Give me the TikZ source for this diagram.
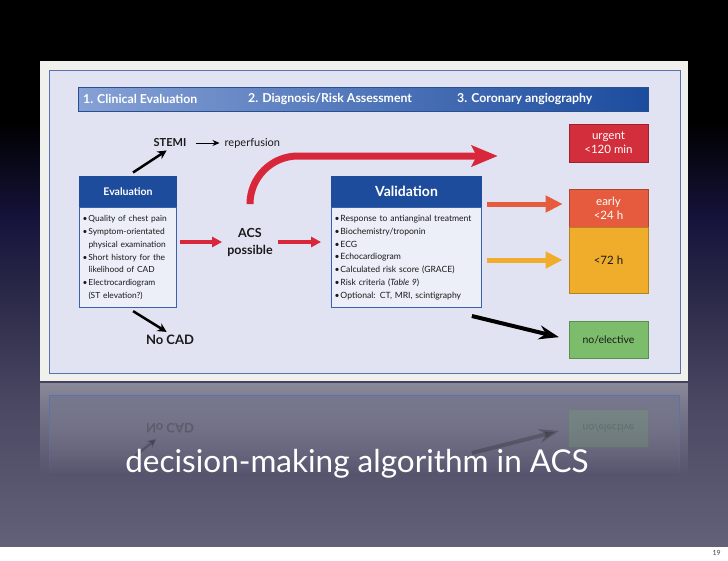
\documentclass[tikz,border=0pt]{standalone}
\usepackage{fontspec}
\setmainfont{Lato}
\usepackage{tikz}
\usetikzlibrary{positioning}
\usetikzlibrary{arrows.meta}
\usetikzlibrary{fadings}
\definecolor{bgA}{HTML}{636179}
\definecolor{bgB}{HTML}{4A4862}
\definecolor{bgC}{HTML}{2B2948}
\definecolor{bgD}{HTML}{15133A}
\definecolor{framecol}{HTML}{F0F0EC}
\definecolor{panelcol}{HTML}{E2E3F2}
\definecolor{panelline}{HTML}{5A72AE}
\definecolor{barleft}{HTML}{86A1D5}
\definecolor{barright}{HTML}{1C4C9E}
\definecolor{barline}{HTML}{2A4F90}
\definecolor{hdblue}{HTML}{1E4C9C}
\definecolor{bdblue}{HTML}{3A62AC}
\definecolor{bodyfill}{HTML}{ECEEF8}
\definecolor{accred}{HTML}{D8263B}
\definecolor{urgred}{HTML}{D22E3B}
\definecolor{earlyor}{HTML}{E65B3D}
\definecolor{lateyel}{HTML}{F0AD2C}
\definecolor{elgreen}{HTML}{7CBD6B}
\definecolor{ink}{HTML}{1A1A1A}
\definecolor{reflframe}{HTML}{8A8A9A}
\definecolor{reflpanel}{HTML}{76768C}
\definecolor{pagenum}{HTML}{444444}
\pgfdeclareverticalshading{slidebg}{100bp}{color(0bp)=(bgA); color(25bp)=(bgA); color(38bp)=(bgB); color(48bp)=(bgC); color(55bp)=(bgD); color(64bp)=(black); color(100bp)=(black)}
\newcommand{\bitem}{\makebox[6pt][l]{\textbullet}}
\newcommand{\bcont}{\hspace*{6pt}}

\begin{document}
\begin{tikzpicture}[
x=1pt, y=-1pt,
every node/.style={inner sep=1pt, text=ink, font=\fontsize{11}{13}\selectfont},
bar/.style={minimum width=570pt, minimum height=24pt, draw=barline, left color=barleft, right color=barright, inner sep=0pt},
bartext/.style={anchor=west, text=white, font=\bfseries\fontsize{12.3}{14}\selectfont},
boxhead/.style={fill=hdblue, text=white, minimum height=31pt, inner sep=0pt, font=\bfseries\fontsize{10.5}{12}\selectfont},
boxbody/.style={draw=bdblue, fill=bodyfill, line width=0.8pt, align=left, minimum height=100pt, inner xsep=3pt, font=\fontsize{8.6}{12.9}\selectfont},
tgt/.style={minimum width=79pt, align=center, line width=0.6pt, draw=#1!75!black, fill=#1, font=\fontsize{11.5}{14}\selectfont},
label/.style={font=\bfseries\fontsize{12.5}{17}\selectfont, align=center},
tharr/.style={line width=0.8pt, -{Stealth[length=7pt, width=6pt]}},
blkarr/.style={line width=2.5pt, -{Stealth[length=9pt, width=9pt]}},
redarr/.style={draw=accred, line width=3.5pt, -{Triangle[length=10pt, width=10pt]}},
fatarr/.style={draw=#1, line width=5pt, -{Triangle[length=17pt, width=16pt]}}
]
\useasboundingbox (0,0) rectangle (728,560);
\fill[white] (0,0) rectangle (728,560);
\shade[shading=slidebg] (0,0) rectangle (728,546);

\fill[framecol] (40,61) rectangle (688,381);
\filldraw[fill=panelcol, draw=panelline, line width=0.6pt] (49,70) rectangle (680,373);

\fill[reflframe, path fading=south] (40,383) rectangle (688,475);
\fill[reflpanel, path fading=south] (49,395) rectangle (680,475);
\draw[panelline, line width=0.6pt, path fading=south] (49,475) -- (49,395) -- (680,395) -- (680,475);

\node[bar] (bar) at (363,99) {};
\node[bartext] (step1) at (82,99) {1. Clinical Evaluation};
\node[bartext] (step2) at (247,99) {2. Diagnosis/Risk Assessment};
\node[bartext] (step3) at (456,99) {3. Coronary angiography};

\node[boxhead, minimum width=98pt] (evalhead) at (128,191.5) {Evaluation};
\node[boxbody, below=0pt of evalhead, text width=91pt, font=\fontsize{8.4}{12.9}\selectfont] (evalbody) {\bitem Quality of chest pain\\
\bitem Symptom-orientated\\
\bcont physical examination\\
\bitem Short history for the\\
\bcont likelihood of CAD\\
\bitem Electrocardiogram\\
\bcont (ST elevation?)};

\node[boxhead, minimum width=151pt, font=\bfseries\fontsize{14}{16}\selectfont] (valhead) at (406.5,191.5) {Validation};
\node[boxbody, below=0pt of valhead, text width=144pt] (valbody) {\bitem Response to antianginal treatment\\
\bitem Biochemistry/troponin\\
\bitem ECG\\
\bitem Echocardiogram\\
\bitem Calculated risk score (GRACE)\\
\bitem Risk criteria (\textit{Table 9})\\
\bitem Optional: CT, MRI, scintigraphy};

\node[label, font=\bfseries\fontsize{11}{13}\selectfont] (stemi) at (170,143) {STEMI};
\node[right=36pt of stemi] (reperf) {reperfusion};
\node[label] (acs) at (250,242) {ACS\\possible};
\node[label, font=\bfseries\fontsize{13}{15}\selectfont] (nocad) at (170,340) {No CAD};

\node[tgt=urgred, text=white, minimum height=38pt] (urgent) at (608.5,143) {urgent\\<120 min};
\node[tgt=earlyor, text=white, minimum height=38pt] (early) at (608.5,208) {early\\<24 h};
\node[tgt=lateyel, minimum height=66pt] (late) at (608.5,260) {<72 h};
\node[tgt=elgreen, minimum height=37pt, font=\fontsize{10.5}{12}\selectfont] (noelect) at (608.5,339.5) {no/elective};

\draw[blkarr, shorten <=6pt, shorten >=4pt] (evalhead.north) -- (stemi.south);
\draw[blkarr, shorten <=6pt, shorten >=4pt] (evalbody.south) -- (nocad.north);
\draw[tharr, shorten <=8pt, shorten >=4pt] (stemi.east) -- (reperf.west);
\draw[redarr, shorten <=3pt, shorten >=4pt] (evalbody.east |- acs) -- (acs.west);
\draw[redarr, shorten <=4pt, shorten >=10pt] (acs.east) -- (valbody.west |- acs);
\draw[draw=accred, line width=7pt, rounded corners=48pt, shorten <=24pt, shorten >=71pt, -{Stealth[length=26pt, width=21pt, inset=5pt]}] (acs.north) |- ([yshift=-13pt]urgent.west);
\draw[fatarr=earlyor, shorten <=5pt, shorten >=6pt] ([yshift=4pt]valhead.east |- early) -- ([yshift=4pt]early.west);
\draw[fatarr=lateyel, shorten <=5pt, shorten >=6pt] (valbody.east |- late) -- (late.west);
\draw[line width=4pt, shorten >=10pt, -{Stealth[length=20pt, width=14pt]}] ([xshift=-10pt, yshift=-8pt]valbody.south east) -- (noelect.west);

\node[tgt=elgreen, minimum height=37pt, font=\fontsize{10.5}{12}\selectfont, yscale=-1, opacity=0.2] (noelectR) at (608.5,428.5) {no/elective};
\node[label, font=\bfseries\fontsize{13}{15}\selectfont, yscale=-1, opacity=0.25] (nocadR) at (170,428) {No CAD};
\coordinate (blkR) at (472,453);
\coordinate (nocadsrc) at (130,460);
\draw[line width=4pt, opacity=0.2, shorten >=10pt, -{Stealth[length=20pt, width=14pt]}] (blkR) -- (noelectR.west);
\draw[blkarr, opacity=0.2, shorten >=8pt] (nocadsrc) -- (nocadR);

\node[text=white, font=\fontsize{31.5}{36}\selectfont] (caption) at (357,464) {decision-making algorithm in ACS};
\node[anchor=east, text=pagenum, font=\fontsize{7}{8}\selectfont] (pageno) at (722,553) {19};
\end{tikzpicture}
\end{document}
